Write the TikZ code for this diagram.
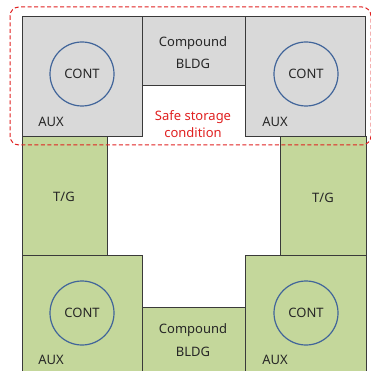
\documentclass[tikz,border=0pt]{standalone}
\usepackage{fontspec}
\setmainfont{Noto Sans}
\definecolor{boxgrey}{HTML}{D9D9D9}
\definecolor{boxgreen}{HTML}{C4D79B}
\definecolor{edge}{HTML}{3A3A3A}
\definecolor{contblue}{HTML}{41659A}
\definecolor{txt}{HTML}{262626}
\definecolor{safered}{HTML}{E02020}
\begin{document}
\begin{tikzpicture}[x=1pt,y=-1pt,
  bld/.style={draw=edge,line width=0.9pt,anchor=north west,inner sep=0pt,outer sep=0pt},
  grey/.style={bld,fill=boxgrey},
  green/.style={bld,fill=boxgreen},
  cont/.style={draw=contblue,line width=1.2pt,circle,minimum size=64pt,inner sep=0pt,text=txt,font=\fontsize{13}{15}\selectfont},
  lbl/.style={text=txt,font=\fontsize{13}{15}\selectfont,inner sep=0pt},
  safe/.style={text=safered,font=\fontsize{13}{17}\selectfont,align=center,inner sep=0pt}]
\useasboundingbox (0,0) rectangle (371,371);
% top row (grey)
\node[grey,minimum width=120pt,minimum height=120pt] (auxTL) at (22,16) {};
\node[grey,minimum width=103pt,minimum height=69pt] (cmpT) at (142,16) {};
\node[grey,minimum width=120pt,minimum height=120pt] (auxTR) at (245,16) {};
% T/G
\node[green,minimum width=85pt,minimum height=119pt] (tgL) at (22,136) {};
\node[green,minimum width=86pt,minimum height=119pt] (tgR) at (280,136) {};
% bottom row (green)
\node[green,minimum width=120pt,minimum height=130pt] (auxBL) at (22,255) {};
\node[green,minimum width=103pt,minimum height=80pt] (cmpB) at (142,307) {};
\node[green,minimum width=121pt,minimum height=130pt] (auxBR) at (245,255) {};
% containments
\node[cont] (contTL) at (82,74) {CONT};
\node[cont] (contTR) at (306,74) {CONT};
\node[cont] (contBL) at (82,313) {CONT};
\node[cont] (contBR) at (306,313) {CONT};
% labels
\node[lbl] (auxTLl) at (51,122) {AUX};
\node[lbl] (auxTRl) at (275,122) {AUX};
\node[lbl] (auxBLl) at (51,360) {AUX};
\node[lbl] (auxBRl) at (275,360) {AUX};
\node[lbl] (cmpTa) at (193,43) {Compound};
\node[lbl] (cmpTb) at (193,64) {BLDG};
\node[lbl] (cmpBa) at (193,330) {Compound};
\node[lbl] (cmpBb) at (193,352) {BLDG};
\node[lbl] (tgLl) at (64,197) {T/G};
\node[lbl] (tgRl) at (323,198) {T/G};
\node[safe] (safeT) at (193,124) {Safe storage\\condition};
% safe storage boundary
\draw[safered,line width=1pt,dash pattern=on 4pt off 2.5pt,rounded corners=9pt] (10,7) rectangle (371,145);
\end{tikzpicture}
\end{document}
